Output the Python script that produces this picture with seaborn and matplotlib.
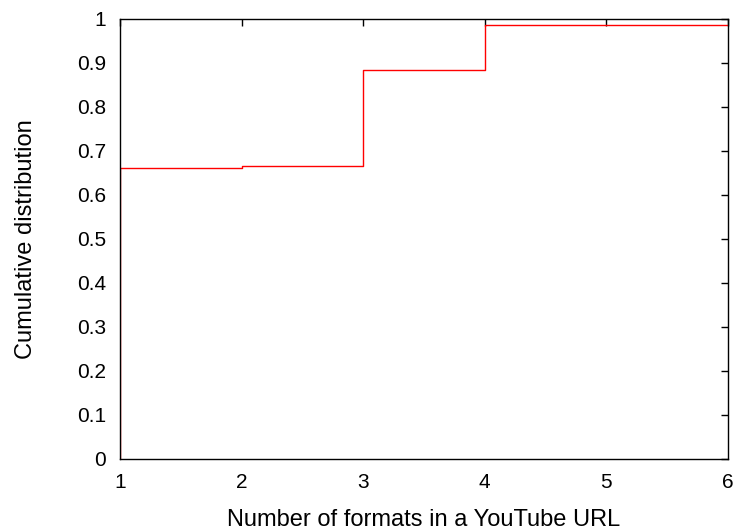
import matplotlib
matplotlib.use("Agg")
import matplotlib.pyplot as plt
import seaborn as sns
import pandas as pd

# Data: CDF of number of formats
formats = [1, 1, 2, 3, 4, 6]
cdf = [0.0, 0.661, 0.667, 0.885, 0.986, 0.986]
xticks = [1, 2, 3, 4, 5, 6]
yticks = [0, 0.1, 0.2, 0.3, 0.4, 0.5, 0.6, 0.7, 0.8, 0.9, 1]
ytick_labels = ["0", "0.1", "0.2", "0.3", "0.4", "0.5", "0.6", "0.7", "0.8", "0.9", "1"]

sns.set_style("white")
plt.rcParams['font.family'] = ['Liberation Sans', 'DejaVu Sans']
plt.rcParams['text.color'] = 'black'
plt.rcParams['axes.labelcolor'] = 'black'

df = pd.DataFrame({"x": formats, "y": cdf})

fig = plt.figure(figsize=(7.41, 5.32), dpi=100)
ax = fig.add_axes([120/741, 73/532, 608/741, 440/532])
sns.lineplot(data=df, x="x", y="y", ax=ax, sort=False, estimator=None,
             drawstyle="steps-post", color="#ff0000", linewidth=1.0)

ax.set_xlim(1, 6)
ax.set_ylim(0, 1)
ax.set_xticks(xticks)
ax.set_xticklabels([str(t) for t in xticks])
ax.set_yticks(yticks)
ax.set_yticklabels(ytick_labels)
ax.tick_params(direction="in", length=5, width=1, top=True, right=True,
               labelsize=15, colors="black", labelcolor="black")
ax.tick_params(axis="x", pad=10)
ax.tick_params(axis="y", pad=10)
for s in ax.spines.values():
    s.set_visible(True)
    s.set_color("black")
    s.set_linewidth(1.0)
ax.set_xlabel("Number of formats in a YouTube URL", fontsize=17, color="black")
ax.set_ylabel("Cumulative distribution", fontsize=17, color="black")
ax.xaxis.set_label_coords(0.5, -0.113)
ax.yaxis.set_label_coords(-0.137, 0.5)
ax.grid(False)

fig.savefig("out.png", dpi=100)
